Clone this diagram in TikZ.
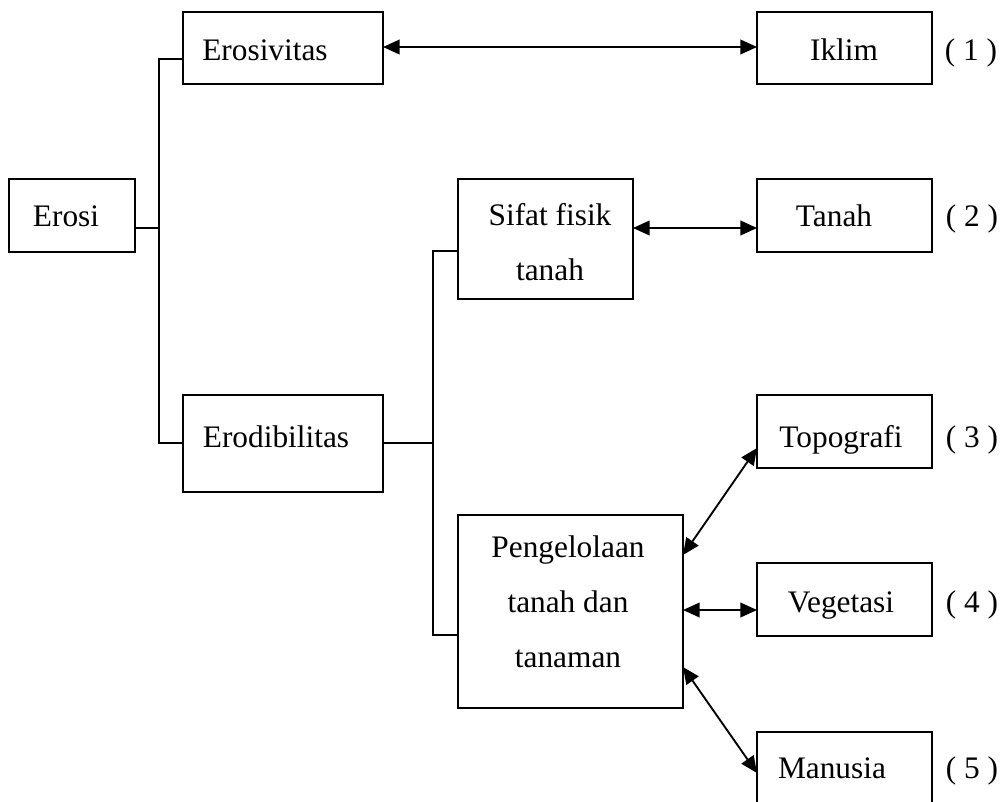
\documentclass[tikz,border=0pt]{standalone}
\usepackage{fontspec}
\setmainfont{Liberation Serif}
\usetikzlibrary{arrows.meta,calc}
\tikzset{
  box/.style={draw, line width=1.5pt, inner sep=0pt, outer sep=0pt},
  txt/.style={anchor=base, inner sep=0pt, outer sep=0pt, align=center,
              font=\fontsize{23.5}{41}\selectfont},
  link/.style={line width=1.4pt},
  biarrow/.style={line width=1.4pt,
     {Triangle[length=12.5pt,width=11pt]}-{Triangle[length=12.5pt,width=11pt]}}
}
\begin{document}
\begin{tikzpicture}[x=0.75pt,y=-0.75pt]
\useasboundingbox (0,0) rectangle (1005,801);
\clip (0,0) rectangle (1005,801);
% boxes
\node[box, minimum width=94.5pt,  minimum height=54.75pt] (erosi)  at (72,215.5)  {};
\node[box, minimum width=150pt,   minimum height=54pt]    (eros)   at (283,48)    {};
\node[box, minimum width=131.25pt,minimum height=54pt]    (iklim)  at (844.5,48)  {};
\node[box, minimum width=131.25pt,minimum height=90pt]    (sifat)  at (545.5,239) {};
\node[box, minimum width=131.25pt,minimum height=54.75pt] (tanah)  at (844.5,215.5) {};
\node[box, minimum width=150pt,   minimum height=72.75pt] (erod)   at (283,443) {};
\node[box, minimum width=131.25pt,minimum height=54.75pt] (topo)   at (844.5,431.5) {};
\node[box, minimum width=168.75pt,minimum height=144.75pt](peng)   at (570.5,611.5) {};
\node[box, minimum width=131.25pt,minimum height=54.75pt] (veg)    at (844.5,599.5) {};
\node[box, minimum width=131.25pt,minimum height=54.75pt] (manu)   at (844.5,768.5) {};
% texts (multi-line nodes: base = last line)
\node[txt] (terosi) at (66,226)  {Erosi};
\node[txt] (teros)  at (265,60)  {Erosivitas};
\node[txt] (tiklim) at (844,60)  {Iklim};
\node[txt] (tsifat) at (550,280) {Sifat fisik\\tanah};
\node[txt] (ttanah) at (834,226) {Tanah};
\node[txt] (terod)  at (276,447) {Erodibilitas};
\node[txt] (ttopo)  at (841,447) {Topografi};
\node[txt] (tpeng)  at (568,667) {Pengelolaan\\tanah dan\\tanaman};
\node[txt] (tveg)   at (841,612) {Vegetasi};
\node[txt] (tmanu)  at (832,778) {Manusia};
\node[txt] (n1) at (971,60)  {( 1 )};
\node[txt] (n2) at (972,226) {( 2 )};
\node[txt] (n3) at (972,447) {( 3 )};
\node[txt] (n4) at (972,612) {( 4 )};
\node[txt] (n5) at (972,778) {( 5 )};
% tree connectors
\coordinate (ja) at (159,228);
\coordinate (jtop) at (159,59);
\draw[link] (erosi.east |- ja) -- (ja);
\draw[link] (jtop -| eros.west) -- (jtop) |- (erod.west);
\coordinate (jbt) at (433,251);
\coordinate (jbb) at (433,635);
\draw[link] (erod.east) -- (erod.east -| jbt);
\draw[link] (jbt -| sifat.west) -- (jbt) -- (jbb) -- (jbb -| peng.west);
% double arrows
\coordinate (a1) at (383,47);
\draw[biarrow] (a1 -| eros.east) -- (a1 -| iklim.west);
\coordinate (a2) at (633,228);
\draw[biarrow] (a2 -| sifat.east) -- (a2 -| tanah.west);
\coordinate (p3) at (683,555);
\coordinate (t3) at (757,448);
\draw[biarrow] (p3 -| peng.east) -- (t3 -| topo.west);
\coordinate (p4) at (683,610);
\draw[biarrow] (p4 -| peng.east) -- (p4 -| veg.west);
\coordinate (p5) at (683,667);
\coordinate (t5) at (757,773);
\draw[biarrow] (p5 -| peng.east) -- (t5 -| manu.west);
\end{tikzpicture}
\end{document}
